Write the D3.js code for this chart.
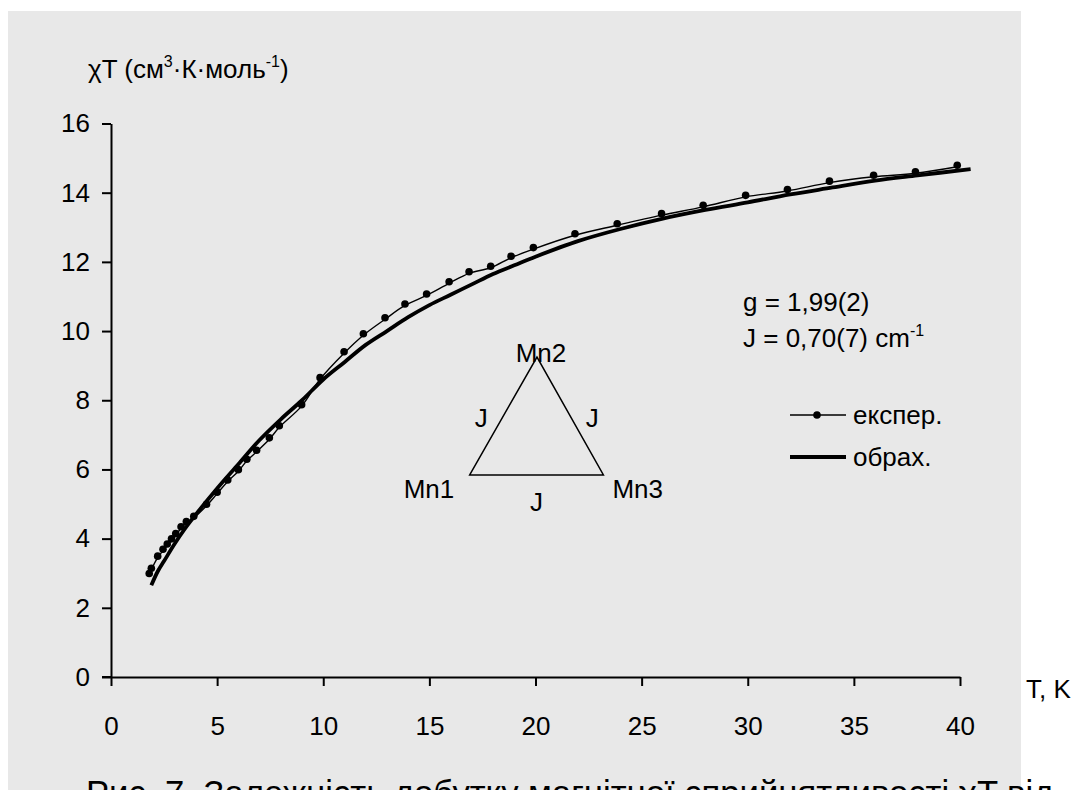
<!DOCTYPE html>
<html>
<head>
<meta charset="utf-8">
<script src="https://cdn.jsdelivr.net/npm/d3@7"></script>
<style>
  html, body { margin: 0; padding: 0; background: #ffffff; }
  svg { display: block; }
  text { font-family: "Liberation Sans", Arial, sans-serif; fill: #000; }
</style>
</head>
<body>
<svg id="chart" width="1078" height="790"></svg>
<script>
// Experimental χT (cm³·K·mol⁻¹) versus temperature T (K)
const expT = [1.8, 1.9, 2.2, 2.45, 2.65, 2.85, 3.05, 3.3, 3.55, 3.9, 4.5, 5.0, 5.5, 6.0, 6.4,
  6.86, 7.46, 7.93, 8.98, 9.85, 10.98, 11.89, 12.91, 13.85, 14.87, 15.93, 16.87, 17.89, 18.85,
  19.9, 21.86, 23.85, 25.94, 27.9, 29.9, 31.87, 33.85, 35.93, 37.9, 39.87];
const expChiT = [2.95, 3.1, 3.45, 3.65, 3.8, 3.95, 4.1, 4.3, 4.45, 4.6, 4.95, 5.3, 5.65, 5.95, 6.25,
  6.51, 6.87, 7.22, 7.83, 8.61, 9.36, 9.88, 10.34, 10.74, 11.03, 11.38, 11.67, 11.83, 12.12,
  12.37, 12.77, 13.06, 13.35, 13.59, 13.88, 14.05, 14.29, 14.46, 14.56, 14.75];

// Fitted (calculated) curve
const calcT = [1.9, 2.2, 2.5, 3.0, 3.5, 4, 5, 6, 7, 8, 9, 10, 11, 12, 13, 14, 15, 16, 17, 18, 19,
  20, 22, 24, 26, 28, 30, 32, 34, 36, 38, 40.5];
const calcChiT = [2.65, 3.05, 3.35, 3.85, 4.3, 4.7, 5.45, 6.15, 6.85, 7.45, 8.0, 8.6, 9.1, 9.6,
  10.0, 10.4, 10.75, 11.05, 11.35, 11.65, 11.9, 12.15, 12.6, 12.95, 13.25, 13.5, 13.72, 13.95,
  14.15, 14.35, 14.5, 14.68];

// Axis ticks
const xTicks = [0, 5, 10, 15, 20, 25, 30, 35, 40];
const yTicks = [0, 2, 4, 6, 8, 10, 12, 14, 16];

// Exchange triangle Mn1–Mn2–Mn3 (in data units) and its labels
const triNames = ["Mn1", "Mn2", "Mn3"];
const triT = [16.9, 20.07, 23.2];
const triChiT = [5.84, 9.25, 5.84];

// Legend entries
const legendLabels = ["експер.", "обрах."];

const FS = 26;
const svg = d3.select("#chart");

// background panel
svg.append("rect")
  .attr("x", 8).attr("y", 11)
  .attr("width", 1013).attr("height", 790)
  .attr("fill", "#e8e8e8");

const x = d3.scaleLinear().domain([0, 40]).range([111, 960]);
const y = d3.scaleLinear().domain([0, 16]).range([677, 123.5]);

// y axis
const yAxis = svg.append("g")
  .attr("transform", `translate(${x(0)},0)`)
  .call(d3.axisLeft(y).tickValues(yTicks).tickSize(9).tickSizeOuter(0).tickPadding(12));
// x axis
const xAxis = svg.append("g")
  .attr("transform", `translate(0,${y(0)})`)
  .call(d3.axisBottom(x).tickValues(xTicks).tickSize(9).tickSizeOuter(0).tickPadding(31));

[yAxis, xAxis].forEach(g => {
  g.select(".domain").attr("stroke", "#000").attr("stroke-width", 2);
  g.selectAll(".tick line").attr("stroke", "#000").attr("stroke-width", 2);
  g.selectAll(".tick text")
    .attr("font-family", "'Liberation Sans', Arial, sans-serif")
    .attr("font-size", FS).attr("fill", "#000");
});
// extend the x axis line under the y-axis tick at zero
svg.append("line")
  .attr("x1", x(0) - 9).attr("x2", x(0))
  .attr("y1", y(0)).attr("y2", y(0))
  .attr("stroke", "#000").attr("stroke-width", 2);

// axis titles
const yTitle = svg.append("text").attr("x", 88).attr("y", 78).attr("font-size", FS);
yTitle.append("tspan").text("χT (см");
yTitle.append("tspan").attr("dy", -11).attr("font-size", 16).text("3");
yTitle.append("tspan").attr("dy", 11).text("·К·моль");
yTitle.append("tspan").attr("dy", -11).attr("font-size", 16).text("-1");
yTitle.append("tspan").attr("dy", 11).text(")");

svg.append("text").attr("x", 1026).attr("y", 698).attr("font-size", FS).text("T, K");

// curves
const expData = expT.map((t, i) => [t, expChiT[i]]);
const calcData = calcT.map((t, i) => [t, calcChiT[i]]);
const line = d3.line().x(d => x(d[0])).y(d => y(d[1])).curve(d3.curveCatmullRom.alpha(0.5));

svg.append("path").datum(calcData)
  .attr("d", line).attr("fill", "none")
  .attr("stroke", "#000").attr("stroke-width", 3.8).attr("stroke-linejoin", "round");

svg.append("path").datum(expData)
  .attr("d", line).attr("fill", "none")
  .attr("stroke", "#000").attr("stroke-width", 1.4);

svg.append("g").selectAll("circle").data(expData).join("circle")
  .attr("cx", d => x(d[0])).attr("cy", d => y(d[1]) - 1.5).attr("r", 3.8)
  .attr("fill", "#000");

// fit parameters
const params = svg.append("g").attr("font-size", FS);
params.append("text").attr("x", 743).attr("y", 311).text("g = 1,99(2)");
const jText = params.append("text").attr("x", 743).attr("y", 347);
jText.append("tspan").text("J = 0,70(7) cm");
jText.append("tspan").attr("dy", -11).attr("font-size", 16).text("-1");

// exchange triangle
const triPts = triT.map((t, i) => [x(t), y(triChiT[i])]);
svg.append("path")
  .attr("d", d3.line()(triPts) + "Z")
  .attr("fill", "none").attr("stroke", "#000").attr("stroke-width", 1.5);

const tri = svg.append("g").attr("font-size", FS);
tri.append("text").attr("x", triPts[0][0] - 66).attr("y", triPts[0][1] + 23).text(triNames[0]);
tri.append("text").attr("x", triPts[1][0] + 4).attr("y", triPts[1][1] + 5)
  .attr("text-anchor", "middle").text(triNames[1]);
tri.append("text").attr("x", triPts[2][0] + 9).attr("y", triPts[2][1] + 23).text(triNames[2]);
tri.append("text").attr("x", (triPts[0][0] + triPts[1][0]) / 2 - 22)
  .attr("y", (triPts[0][1] + triPts[1][1]) / 2 + 11).attr("text-anchor", "middle").text("J");
tri.append("text").attr("x", (triPts[2][0] + triPts[1][0]) / 2 + 22)
  .attr("y", (triPts[2][1] + triPts[1][1]) / 2 + 11).attr("text-anchor", "middle").text("J");
tri.append("text").attr("x", (triPts[0][0] + triPts[2][0]) / 2)
  .attr("y", triPts[0][1] + 36).attr("text-anchor", "middle").text("J");

// legend
const legend = svg.append("g").attr("font-size", FS);
const legY = [415, 457];
legendLabels.forEach((lab, i) => {
  legend.append("line")
    .attr("x1", 790).attr("x2", 846).attr("y1", legY[i]).attr("y2", legY[i])
    .attr("stroke", "#000").attr("stroke-width", i === 0 ? 1.4 : 3.8);
  if (i === 0) {
    legend.append("circle").attr("cx", 817).attr("cy", legY[i]).attr("r", 3.8).attr("fill", "#000");
  }
  legend.append("text").attr("x", 853).attr("y", legY[i] + 9).text(lab);
});

// figure caption (runs past the bottom edge)
const cap = svg.append("text")
  .attr("x", 86).attr("y", 805)
  .attr("font-family", "'Liberation Serif', 'Times New Roman', serif")
  .attr("font-size", 30)
  .text("Рис. 7. Залежність добутку магнітної сприйнятливості χT від");
const w = cap.node().getComputedTextLength();
cap.attr("font-size", 30 * 968 / w);
</script>
</body>
</html>
